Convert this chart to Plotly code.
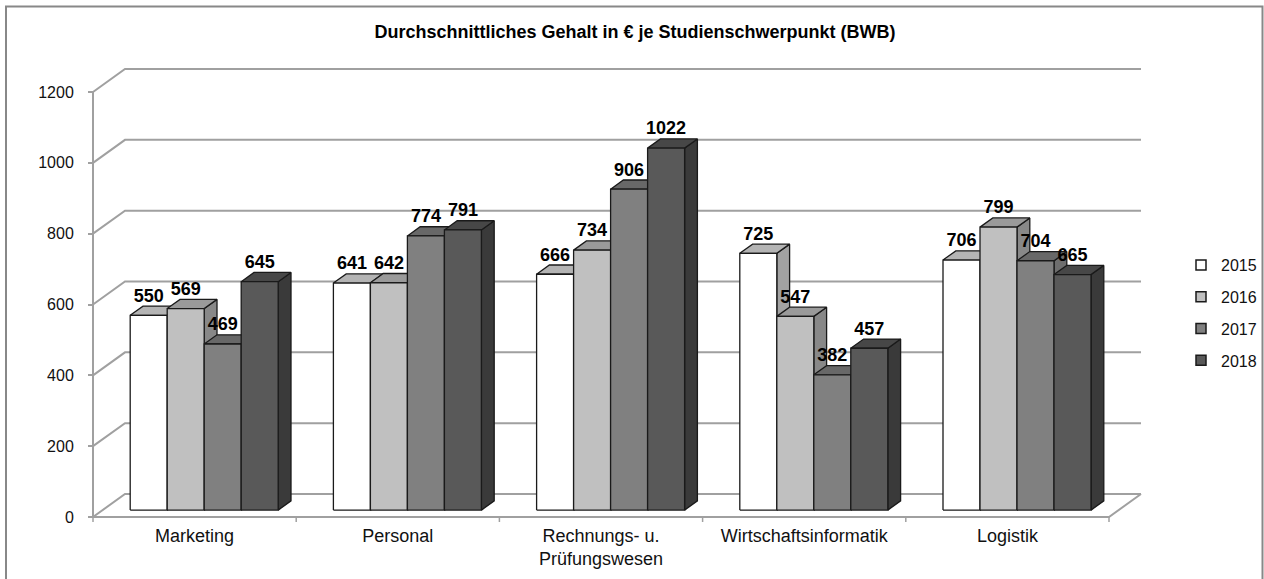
import plotly.graph_objects as go

# ---------------- data ----------------
categories = ["Marketing", "Personal", "Rechnungs- u.<br>Prüfungswesen", "Wirtschaftsinformatik", "Logistik"]
years = ["2015", "2016", "2017", "2018"]
v2015 = [550, 641, 666, 725, 706]
v2016 = [569, 642, 734, 547, 799]
v2017 = [469, 774, 906, 382, 704]
v2018 = [645, 791, 1022, 457, 665]
y_ticks = [0, 200, 400, 600, 800, 1000, 1200]
title = "Durchschnittliches Gehalt in € je Studienschwerpunkt (BWB)"

series = [v2015, v2016, v2017, v2018]
front_col = ["#ffffff", "#c0c0c0", "#808080", "#595959"]
top_col = ["#b4b4b4", "#9a9a9a", "#686868", "#474747"]
side_col = ["#a2a2a2", "#888888", "#6e6e6e", "#3a3a3a"]

# ---------------- geometry (pseudo 3D projection in data units) ----------------
W, H = 1264, 579
L, R, T, B = 73, 100, 50, 49
PX_X = 203.2            # px per category
PX_Y = 425 / 1200       # px per value unit
X0_PX, Y0_PX = 93, 517  # pixel of data origin (front)
xmin = -(X0_PX - L) / PX_X
xmax = (W - R - X0_PX) / PX_X
ymin = -((H - B) - Y0_PX) / PX_Y
ymax = (Y0_PX - T) / PX_Y

DX = 32 / PX_X          # full depth offset, x
DY = 23 / PX_Y          # full depth offset, y
F1, F2 = 0.3, 0.7       # bar depth range
BW = 37 / PX_X          # bar width
ncat = len(categories)
ytop = y_ticks[-1]
grid_c = "#a0a0a0"
edge_c = "#1a1a1a"

fig = go.Figure()

# back wall grid lines
gx, gy = [], []
for t in y_ticks:
    gx += [0, DX, ncat + DX, None]
    gy += [t, t + DY, t + DY, None]
fig.add_trace(go.Scatter(x=gx, y=gy, mode="lines", line=dict(color=grid_c, width=2),
                         hoverinfo="skip", showlegend=False))
# floor front edge + axis line
fig.add_trace(go.Scatter(x=[0, ncat, ncat + DX], y=[0, 0, DY], mode="lines",
                         line=dict(color=grid_c, width=2), hoverinfo="skip", showlegend=False))
fig.add_trace(go.Scatter(x=[0, 0], y=[0, ytop], mode="lines",
                         line=dict(color=grid_c, width=2), hoverinfo="skip", showlegend=False))
# category separator ticks
tx, ty = [], []
for c in range(ncat + 1):
    tx += [c, c, None]
    ty += [0, -5 / PX_Y, None]
fig.add_trace(go.Scatter(x=tx, y=ty, mode="lines", line=dict(color=grid_c, width=1.5),
                         hoverinfo="skip", showlegend=False))

ddx = (F2 - F1) * DX
ddy = (F2 - F1) * DY
yb = F1 * DY


def face(xs, ys, col):
    fig.add_trace(go.Scatter(x=xs + [xs[0]], y=ys + [ys[0]], mode="lines", fill="toself",
                             fillcolor=col, line=dict(color=edge_c, width=1.3),
                             hoverinfo="skip", showlegend=False))


lab_x, lab_y, lab_t = [], [], []
for c in range(ncat):
    for i, s in enumerate(series):
        v = s[c]
        xl = c + 0.5 + (i - 2) * BW + F1 * DX
        xr = xl + BW
        vt = v + yb
        face([xr, xr + ddx, xr + ddx, xr], [yb, yb + ddy, vt + ddy, vt], side_col[i])
        face([xl, xr, xr + ddx, xl + ddx], [vt, vt, vt + ddy, vt + ddy], top_col[i])
        face([xl, xr, xr, xl], [yb, yb, vt, vt], front_col[i])
        lab_x.append((xl + xr) / 2)
        lab_y.append(vt + ddy)
        lab_t.append(str(v))

fig.add_trace(go.Scatter(x=lab_x, y=lab_y, text=lab_t, mode="text", textposition="top center",
                         textfont=dict(family="Liberation Sans", size=18, color="#000000", weight="bold"),
                         cliponaxis=False, hoverinfo="skip", showlegend=False))

# legend entries
for i, yname in enumerate(years):
    fig.add_trace(go.Scatter(x=[None], y=[None], mode="markers", name=yname, legendgroup=yname,
                             marker=dict(symbol="square", size=10, color=front_col[i],
                                         line=dict(color=edge_c, width=1.5))))

pw = W - L - R
ph = H - T - B
fig.update_layout(
    width=W, height=H,
    margin=dict(l=L, r=R, t=T, b=B, autoexpand=False),
    paper_bgcolor="white", plot_bgcolor="rgba(0,0,0,0)",
    title=dict(text="<b>" + title + "</b>", x=635 / W, xref="container", xanchor="center",
               y=1 - 32 / H, yref="container", yanchor="middle",
               font=dict(family="Liberation Sans", size=18, color="#000000")),
    xaxis=dict(range=[xmin, xmax], anchor="free", position=(0 - ymin) / (ymax - ymin),
               tickmode="array", tickvals=[c + 0.5 for c in range(ncat)], ticktext=categories,
               ticks="", showline=False, showgrid=False, zeroline=False, automargin=False,
               ticklabelstandoff=6,
               tickfont=dict(family="Liberation Sans", size=18, color="#111111")),
    yaxis=dict(range=[ymin, ymax], anchor="free", position=(0 - xmin) / (xmax - xmin),
               tickmode="array", tickvals=y_ticks, ticks="outside", ticklen=5, tickwidth=1.5,
               tickcolor=grid_c, showline=False, showgrid=False, zeroline=False, automargin=False,
               ticklabelstandoff=11,
               tickfont=dict(family="Liberation Sans", size=16, color="#111111")),
    legend=dict(x=(1181 - L) / pw, xanchor="left", y=(H - B - 248) / ph, yanchor="top",
                font=dict(family="Liberation Sans", size=16, color="#111111"),
                itemwidth=30, tracegroupgap=8, bgcolor="rgba(0,0,0,0)"),
    shapes=[dict(type="rect", xref="paper", yref="paper",
                 x0=(6 - L) / pw, x1=(1262.5 - L) / pw,
                 y0=(H - B - 600) / ph, y1=(H - B - 6.5) / ph,
                 line=dict(color="#888888", width=2), fillcolor="rgba(0,0,0,0)", layer="below")],
    showlegend=True,
)

fig.write_html("out.html", config={"displayModeBar": False},
               post_script="document.body.style.margin='0';")
